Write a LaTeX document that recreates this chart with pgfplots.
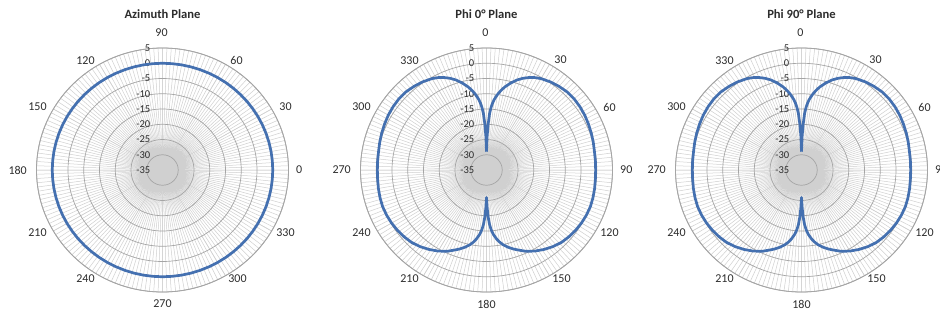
\documentclass[border=0pt]{standalone}
\usepackage{pgfplots}
\pgfplotsset{compat=1.18}
\usepgfplotslibrary{polar}
\usepackage{pgfplotstable}
\usepackage{fontspec}
\setmainfont{Carlito}
\definecolor{series}{RGB}{68,112,176}
\definecolor{ringc}{RGB}{165,165,165}
\definecolor{spokec}{RGB}{208,208,208}
\definecolor{txt}{RGB}{45,45,45}

% Azimuth plane (math angle, dB)
\pgfplotstableread{
ang db
0 0
5 0
10 0
15 0
20 0
25 0
30 0
35 0
40 0
45 0
50 0
55 0
60 0
65 0
70 0
75 0
80 0
85 0
90 0
95 0
100 0
105 0
110 0
115 0
120 0
125 0
130 0
135 0
140 0
145 0
150 0
155 0
160 0
165 0
170 0
175 0
180 0
185 0
190 0
195 0
200 0
205 0
210 0
215 0
220 0
225 0
230 0
235 0
240 0
245 0
250 0
255 0
260 0
265 0
270 0
275 0
280 0
285 0
290 0
295 0
300 0
305 0
310 0
315 0
320 0
325 0
330 0
335 0
340 0
345 0
350 0
355 0
360 0
}\azim

% Phi planes (compass angle, dB)
\pgfplotstableread{
ang db
0 -29
1 -24
2 -20
3 -16.5
4 -14.5
5 -13
6 -11.8
8 -10
10 -8.5
12 -7.2
15 -5.5
18 -4
21 -2.8
24 -1.8
27 -1.0
30 -0.4
35 0.3
40 0.8
45 1.2
50 1.3
55 1.2
60 1.0
65 0.7
70 0.4
75 0.1
80 -0.2
85 -0.3
90 -0.35
95 -0.3
100 -0.15
105 0
110 0.1
115 0
120 -0.2
125 -0.5
130 -0.9
135 -1.4
140 -2.2
145 -3.2
150 -4.3
155 -5.6
159 -6.9
162 -7.8
165 -8.8
168 -10
170 -11
172 -12.2
174 -13.7
175 -14.6
176 -15.8
177 -17.3
178 -19.5
179 -22.5
180 -26
181 -22.5
182 -19.5
183 -17.3
184 -15.8
185 -14.6
186 -13.7
188 -12.2
190 -11
192 -10
195 -8.8
198 -7.8
201 -6.9
205 -5.6
210 -4.3
215 -3.2
220 -2.2
225 -1.4
230 -0.9
235 -0.5
240 -0.2
245 0
250 0.1
255 0
260 -0.15
265 -0.3
270 -0.35
275 -0.3
280 -0.2
285 0.1
290 0.4
295 0.7
300 1.0
305 1.2
310 1.3
315 1.2
320 0.8
325 0.3
330 -0.4
333 -1.0
336 -1.8
339 -2.8
342 -4
345 -5.5
348 -7.2
350 -8.5
352 -10
354 -11.8
355 -13
356 -14.5
357 -16.5
358 -20
359 -24
360 -29
}\phiplane

\tikzset{
  rlab/.style={anchor=east, inner sep=0pt, xshift=-12pt,
      font=\fontsize{10.5}{10.5}\selectfont, text=txt},
  alab/.style={anchor=center, inner sep=0pt,
      font=\fontsize{12}{12}\selectfont, text=txt},
}

\pgfplotsset{
  radar/.style={
    scale only axis,
    width=252pt, height=244pt,
    anchor=center,
    clip mode=individual,
    xmin=0, xmax=360, ymin=0, ymax=40,
    xtick={0,30,...,330},
    minor xtick={0,2,...,358},
    ytick={0,5,...,40},
    xticklabels={}, yticklabels={},
    major tick length=0pt, minor tick length=0pt,
    xmajorgrids, xminorgrids, ymajorgrids,
    major x grid style={spokec, line width=0.5pt},
    minor x grid style={spokec, line width=0.5pt},
    major y grid style={ringc, line width=0.7pt},
    separate axis lines,
    x axis line style={ringc, line width=0.8pt},
    y axis line style={draw=none},
    title style={at={(0.5,1)}, anchor=center, yshift=19pt,
      font=\bfseries\fontsize{12.6}{13}\selectfont, text=txt},
  },
  curve/.style={series, line width=2.7pt, line join=round, no marks},
}

\newcommand{\ringlabels}{%
  \node[rlab] at (axis cs:90,40) {5};
  \node[rlab] at (axis cs:90,35) {0};
  \node[rlab] at (axis cs:90,30) {-5};
  \node[rlab] at (axis cs:90,25) {-10};
  \node[rlab] at (axis cs:90,20) {-15};
  \node[rlab] at (axis cs:90,15) {-20};
  \node[rlab] at (axis cs:90,10) {-25};
  \node[rlab] at (axis cs:90,5) {-30};
  \node[rlab] at (axis cs:90,0) {-35};
}
% angle labels at positions 0,30,60,90,120,150 (counter-clockwise from right)
\newcommand{\alabsA}[6]{%
  \node[alab, anchor=west, xshift=133.5pt] at (axis cs:0,0) {#1};
  \node[alab, xshift=123pt, yshift=63pt] at (axis cs:0,0) {#2};
  \node[alab, xshift=74pt, yshift=110pt] at (axis cs:0,0) {#3};
  \node[alab, xshift=-1pt, yshift=137pt] at (axis cs:0,0) {#4};
  \node[alab, xshift=-77pt, yshift=109pt] at (axis cs:0,0) {#5};
  \node[alab, xshift=-125pt, yshift=63pt] at (axis cs:0,0) {#6};
}
% positions 180,210,240,270,300,330
\newcommand{\alabsB}[6]{%
  \node[alab, anchor=east, xshift=-135.5pt] at (axis cs:0,0) {#1};
  \node[alab, xshift=-125pt, yshift=-63pt] at (axis cs:0,0) {#2};
  \node[alab, xshift=-77pt, yshift=-109pt] at (axis cs:0,0) {#3};
  \node[alab, xshift=0pt, yshift=-134pt] at (axis cs:0,0) {#4};
  \node[alab, xshift=75pt, yshift=-109pt] at (axis cs:0,0) {#5};
  \node[alab, xshift=123pt, yshift=-63pt] at (axis cs:0,0) {#6};
}

\begin{document}
\begin{tikzpicture}
\path[use as bounding box] (0,0) rectangle (940pt,314pt);
\clip (0,0) rectangle (940pt,314pt);
\fill[white] (0,0) rectangle (940pt,314pt);

\begin{polaraxis}[radar, at={(162.5pt,144pt)}, title={Azimuth Plane}]
  \ringlabels
  \alabsA{0}{30}{60}{90}{120}{150}
  \alabsB{180}{210}{240}{270}{300}{330}
  \addplot[curve, y filter/.expression={y+35}] table[x=ang, y=db] {\azim};
\end{polaraxis}

\begin{polaraxis}[radar, at={(486.5pt,144pt)}, title={Phi 0° Plane}]
  \ringlabels
  \alabsA{90}{60}{30}{0}{330}{300}
  \alabsB{270}{240}{210}{180}{150}{120}
  \addplot[curve, x filter/.expression={450-x}, y filter/.expression={y+35}] table[x=ang, y=db] {\phiplane};
\end{polaraxis}

\fill[white] (632pt,0) rectangle (940pt,314pt);

\begin{polaraxis}[radar, at={(801.5pt,144pt)}, title={Phi 90° Plane}]
  \ringlabels
  \alabsA{90}{60}{30}{0}{330}{300}
  \alabsB{270}{240}{210}{180}{150}{120}
  \addplot[curve, x filter/.expression={450-x}, y filter/.expression={y+35}] table[x=ang, y=db] {\phiplane};
\end{polaraxis}
\end{tikzpicture}
\end{document}
